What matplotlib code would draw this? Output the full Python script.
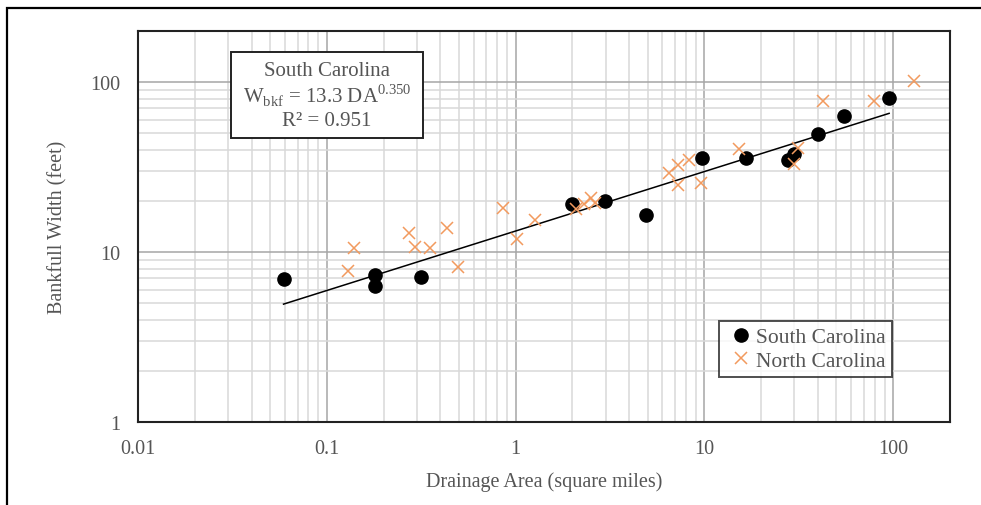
import numpy as np
import matplotlib
matplotlib.use("Agg")
import matplotlib.pyplot as plt
from matplotlib.ticker import LogLocator, FixedLocator, FixedFormatter
from matplotlib.patches import Rectangle

# South Carolina field data (drainage area sq mi, bankfull width ft)
sc_area = [0.059, 0.18, 0.18, 0.314, 2.0, 2.96, 4.93, 9.76, 16.7, 27.8, 29.9, 40.1, 55.1, 95.2]
sc_width = [6.9, 7.3, 6.3, 7.1, 19.1, 20.1, 16.6, 35.6, 35.6, 34.7, 37.6, 49.3, 63.0, 80.5]

# North Carolina field data
nc_area = [0.130, 0.140, 0.273, 0.294, 0.351, 0.435, 0.495, 0.857, 1.02, 1.27,
           2.10, 2.29, 2.52, 2.65, 6.53, 7.22, 8.26, 7.22, 9.6, 15.3,
           29.9, 31.5, 42.3, 78.7, 129.0]
nc_width = [7.7, 10.5, 13.0, 10.7, 10.6, 13.9, 8.2, 18.1, 11.9, 15.4,
            18.0, 19.3, 20.8, 19.5, 29.1, 32.5, 34.8, 24.8, 25.4, 40.4,
            33.0, 40.8, 77.6, 77.6, 101.0]

# regression W = a * DA^b
coef_a = 13.3
coef_b = 0.350
r_squared = 0.951
fit_range = [0.059, 95.2]

x_ticks = [0.01, 0.1, 1, 10, 100]
x_ticklabels = ["0.01", "0.1", "1", "10", "100"]
y_ticks = [1, 10, 100]
y_ticklabels = ["1", "10", "100"]

TEXT = "#555555"
ORANGE = "#F29A5E"
FONT = "Liberation Serif"
W, H = 981, 506


def main() -> None:
    plt.rcParams["font.family"] = [FONT, "DejaVu Serif"]
    fig = plt.figure(figsize=(W / 100, H / 100), dpi=100)

    # outer frame around the chart
    fig.patches.append(Rectangle((7 / W, -0.05), 1.1, (H - 9) / H + 0.05,
                                 transform=fig.transFigure, fill=False,
                                 edgecolor="black", linewidth=1.6))

    ax = fig.add_axes([138 / W, 83 / H, 812 / W, 391 / H])
    ax.set_xscale("log")
    ax.set_yscale("log")
    ax.set_xlim(0.01, 200)
    ax.set_ylim(1, 200)

    ax.xaxis.set_major_locator(FixedLocator(x_ticks))
    ax.xaxis.set_major_formatter(FixedFormatter(x_ticklabels))
    ax.yaxis.set_major_locator(FixedLocator(y_ticks))
    ax.yaxis.set_major_formatter(FixedFormatter(y_ticklabels))
    ax.xaxis.set_minor_locator(LogLocator(base=10, subs=np.arange(2, 10), numticks=20))
    ax.yaxis.set_minor_locator(LogLocator(base=10, subs=np.arange(2, 10), numticks=20))

    ax.grid(True, which="major", color="#A6A6A6", linewidth=1.1)
    ax.grid(True, which="minor", color="#D9D9D9", linewidth=1.1)
    ax.set_axisbelow(True)
    ax.tick_params(which="both", length=0)
    ax.tick_params(axis="x", pad=12, labelsize=14.5, labelcolor=TEXT)
    ax.tick_params(axis="y", pad=13, labelsize=14.5, labelcolor=TEXT)
    for s in ax.spines.values():
        s.set_linewidth(1.5)
        s.set_color("#222222")

    # fit line
    fx = np.logspace(np.log10(fit_range[0]), np.log10(fit_range[1]), 50)
    ax.plot(fx, coef_a * fx ** coef_b, color="black", linewidth=1.1, zorder=3)

    ax.plot(sc_area, sc_width, "o", color="black", markersize=9.5,
            label="South Carolina", zorder=4)
    ax.plot(nc_area, nc_width, "x", color=ORANGE, markersize=9,
            markeredgewidth=1.1, label="North Carolina", zorder=5)

    ax.set_xlabel("Drainage Area (square miles)", fontsize=14.5, color=TEXT, labelpad=10)
    ax.set_ylabel("Bankfull Width (feet)", fontsize=14.5, color=TEXT, labelpad=16)

    # equation box
    box = Rectangle((231 / W, (H - 139) / H), 192 / W, 86 / H, transform=fig.transFigure,
                    facecolor="white", edgecolor="#222222", linewidth=1.4, zorder=6)
    fig.patches.append(box)
    eq_lines = ["South Carolina",
                r"W$_{\mathregular{bkf}}$ = %.1f DA$^{\mathregular{%.3f}}$" % (coef_a, coef_b),
                "R² = %.3f" % r_squared]
    for line, yp in zip(eq_lines, [71, 96, 122]):
        fig.text(327 / W, (H - yp) / H, line, ha="center", va="center",
                 fontsize=15, color=TEXT, zorder=7)

    leg = ax.legend(loc="lower right", bbox_to_anchor=(892 / W, (H - 378) / H),
                    bbox_transform=fig.transFigure, fontsize=15.5, frameon=True,
                    fancybox=False, handlelength=1.4, handletextpad=0.0,
                    borderpad=0.3, labelspacing=0.15, borderaxespad=0)
    leg.get_frame().set_edgecolor("#222222")
    leg.get_frame().set_linewidth(1.4)
    for t in leg.get_texts():
        t.set_color(TEXT)

    fig.savefig("out.png", dpi=100)


if __name__ == "__main__":
    main()
